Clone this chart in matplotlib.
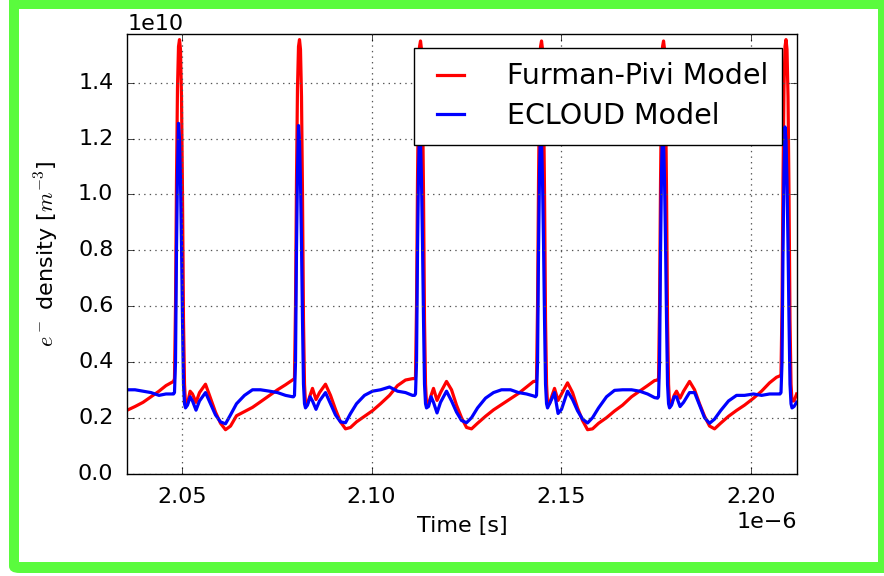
import numpy as np
import matplotlib
matplotlib.use("Agg")
import matplotlib.pyplot as plt
from matplotlib.patches import FancyBboxPatch, Rectangle

# Bunch passage times [ns]
bunch_ns = [2049.42, 2081.03, 2112.91, 2144.79, 2176.93, 2209.19]

# Sampling instants relative to each bunch passage [ns]
offset_ns = [-1.58, -1.32, -1.05, -0.79, -0.53, -0.26, 0.00, 0.26, 0.53, 0.79,
             1.05, 1.32, 1.58, 2.11, 2.79, 3.42, 4.35, 5.27, 6.85, 8.17,
             9.48, 10.80, 12.12, 13.44, 15.02, 17.12, 19.23, 21.34, 23.71,
             25.82, 27.93, 29.77]

# Samples before the first bunch in the window [ns]
lead_ns = [2035.67, 2037.70, 2039.81, 2041.91, 2044.02, 2045.86]

# Electron density [1e10 m^-3], Furman-Pivi secondary emission model
fp_lead = [0.227, 0.240, 0.255, 0.275, 0.295, 0.315]
fp_cycles = [
    [0.330, 0.340, 0.60, 1.05, 1.38, 1.53, 1.555, 1.52, 1.35, 1.00, 0.55, 0.32, 0.25,
     0.250, 0.295, 0.285, 0.255, 0.290, 0.320, 0.270, 0.220, 0.180, 0.157, 0.170,
     0.207, 0.222, 0.237, 0.257, 0.280, 0.300, 0.318, 0.335],
    [0.337, 0.340, 0.60, 1.05, 1.38, 1.53, 1.555, 1.52, 1.35, 1.00, 0.55, 0.32, 0.25,
     0.250, 0.280, 0.305, 0.265, 0.290, 0.320, 0.280, 0.230, 0.185, 0.160, 0.165,
     0.185, 0.205, 0.225, 0.250, 0.280, 0.315, 0.335, 0.340],
    [0.340, 0.345, 0.60, 1.05, 1.38, 1.53, 1.550, 1.52, 1.35, 1.00, 0.55, 0.32, 0.25,
     0.250, 0.280, 0.305, 0.262, 0.290, 0.330, 0.300, 0.245, 0.200, 0.165, 0.160,
     0.180, 0.205, 0.228, 0.247, 0.268, 0.287, 0.310, 0.330],
    [0.330, 0.335, 0.60, 1.05, 1.38, 1.53, 1.550, 1.52, 1.35, 1.00, 0.55, 0.32, 0.25,
     0.250, 0.280, 0.305, 0.262, 0.285, 0.325, 0.290, 0.235, 0.190, 0.157, 0.160,
     0.180, 0.200, 0.224, 0.245, 0.275, 0.295, 0.315, 0.333],
    [0.335, 0.340, 0.60, 1.05, 1.38, 1.53, 1.550, 1.52, 1.35, 1.00, 0.55, 0.32, 0.25,
     0.250, 0.280, 0.295, 0.270, 0.295, 0.330, 0.300, 0.250, 0.205, 0.170, 0.160,
     0.180, 0.205, 0.226, 0.245, 0.270, 0.295, 0.325, 0.345],
    [0.350, 0.355, 0.60, 1.05, 1.38, 1.53, 1.555, 1.52, 1.35, 1.00, 0.55, 0.32, 0.26,
     0.260, 0.285],
]

# Electron density [1e10 m^-3], ECLOUD secondary emission model
ec_lead = [0.300, 0.300, 0.295, 0.290, 0.280, 0.285]
ec_cycles = [
    [0.285, 0.290, 0.40, 0.80, 1.08, 1.255, 1.20, 1.05, 0.82, 0.55, 0.32, 0.25, 0.235,
     0.245, 0.275, 0.260, 0.227, 0.260, 0.290, 0.250, 0.210, 0.185, 0.178, 0.210,
     0.250, 0.280, 0.300, 0.300, 0.295, 0.290, 0.280, 0.275],
    [0.275, 0.280, 0.40, 0.80, 1.08, 1.247, 1.19, 1.05, 0.82, 0.55, 0.32, 0.25, 0.235,
     0.245, 0.275, 0.260, 0.230, 0.260, 0.290, 0.250, 0.210, 0.185, 0.182, 0.215,
     0.250, 0.280, 0.295, 0.300, 0.310, 0.295, 0.290, 0.280],
    [0.280, 0.285, 0.40, 0.80, 1.08, 1.240, 1.19, 1.05, 0.82, 0.55, 0.32, 0.25, 0.235,
     0.240, 0.275, 0.255, 0.217, 0.255, 0.295, 0.260, 0.220, 0.190, 0.182, 0.200,
     0.235, 0.270, 0.290, 0.300, 0.300, 0.290, 0.285, 0.278],
    [0.275, 0.280, 0.40, 0.80, 1.08, 1.245, 1.19, 1.05, 0.82, 0.55, 0.32, 0.25, 0.235,
     0.250, 0.270, 0.290, 0.215, 0.230, 0.295, 0.265, 0.225, 0.195, 0.181, 0.200,
     0.235, 0.275, 0.298, 0.300, 0.300, 0.295, 0.285, 0.272],
    [0.270, 0.275, 0.40, 0.80, 1.08, 1.245, 1.19, 1.05, 0.82, 0.55, 0.32, 0.25, 0.235,
     0.245, 0.275, 0.275, 0.240, 0.255, 0.290, 0.290, 0.245, 0.200, 0.180, 0.195,
     0.225, 0.260, 0.280, 0.280, 0.285, 0.280, 0.285, 0.285],
    [0.285, 0.290, 0.40, 0.80, 1.08, 1.242, 1.19, 1.05, 0.82, 0.55, 0.32, 0.25, 0.235,
     0.240, 0.255],
]

series_labels = ["Furman-Pivi Model", "ECLOUD Model"]
x_ticks = [2.05e-6, 2.10e-6, 2.15e-6, 2.20e-6]
y_ticks = [0.0, 0.2e10, 0.4e10, 0.6e10, 0.8e10, 1.0e10, 1.2e10, 1.4e10]


def assemble(lead_vals, cycles):
    t = list(lead_ns)
    v = list(lead_vals)
    for b, vals in zip(bunch_ns, cycles):
        t.extend(b + o for o in offset_ns[:len(vals)])
        v.extend(vals)
    return np.array(t) * 1e-9, np.array(v) * 1e10


t_fp, n_fp = assemble(fp_lead, fp_cycles)
t_ec, n_ec = assemble(ec_lead, ec_cycles)

plt.style.use("classic")
plt.rcParams["mathtext.fontset"] = "cm"
plt.rcParams["font.family"] = "DejaVu Sans"

fig = plt.figure(figsize=(8.84, 5.76), dpi=100, facecolor="white")

# Green frame around the figure
fig.patches.append(FancyBboxPatch((9 / 884, 3 / 576), 2.0, 2.0,
                                  boxstyle="round,pad=0,rounding_size=0.012",
                                  transform=fig.transFigure, facecolor="#5afb3d",
                                  edgecolor="none", zorder=-3))
fig.patches.append(Rectangle((19 / 884, 14 / 576), (878 - 19) / 884, (567 - 14) / 576,
                             transform=fig.transFigure, facecolor="white",
                             edgecolor="none", zorder=-2))

ax = fig.add_axes([127.3 / 884, 1 - 473.5 / 576, (796.6 - 127.3) / 884, (473.5 - 34) / 576])
ax.set_facecolor("white")

ax.plot(t_fp, n_fp, color="#ff0000", lw=2.3, label=series_labels[0])
ax.plot(t_ec, n_ec, color="#0000ff", lw=2.3, label=series_labels[1])

ax.set_xlim(t_fp[0], t_fp[-1])
ax.set_ylim(0, 1.575e10)
ax.set_xticks(x_ticks)
ax.set_yticks(y_ticks)
ax.ticklabel_format(axis="both", style="sci", scilimits=(0, 0), useOffset=False)
ax.grid(True, color="#555555", linestyle=":", linewidth=0.9)
ax.tick_params(direction="in", top=True, right=True, labelsize=16, length=5)
ax.tick_params(axis="y", pad=10)
ax.tick_params(axis="x", pad=10)
ax.xaxis.get_offset_text().set_fontsize(16)
ax.yaxis.get_offset_text().set_fontsize(16)

ax.set_xlabel("Time [s]", fontsize=16, labelpad=6)
ax.set_ylabel(r"$e^-$ density [$m^{-3}$]", fontsize=16, labelpad=12)

leg = ax.legend(loc="upper right", fontsize=20.5, handlelength=1.55,
                handletextpad=1.2, borderaxespad=0.5, borderpad=0.5,
                labelspacing=0.42, numpoints=2, fancybox=False)
leg.get_frame().set_edgecolor("black")
leg.get_frame().set_linewidth(1.0)

fig.savefig("out.png", dpi=100, facecolor="white")
